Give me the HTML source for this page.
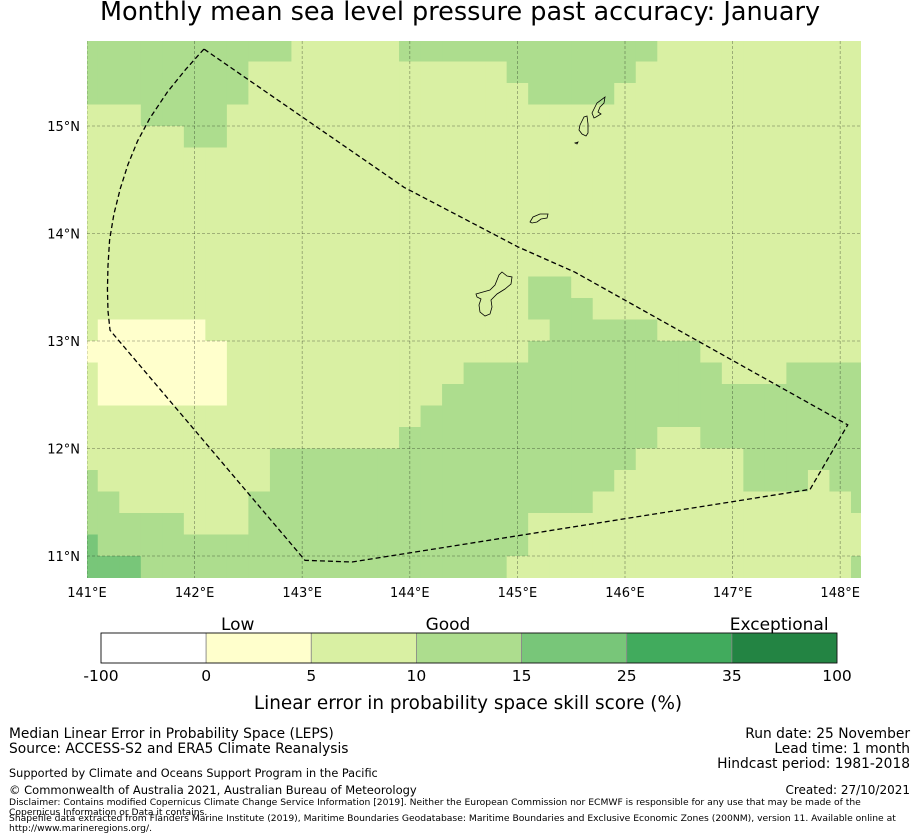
<!DOCTYPE html>
<html><head><meta charset="utf-8"><style>
html,body{margin:0;padding:0;background:#fff;}
body{width:919px;height:839px;overflow:hidden;font-family:"DejaVu Sans","Liberation Sans",sans-serif;}
svg{display:block;}
</style></head><body>
<svg id="chart" width="919" height="839" viewBox="0 0 919 839" xmlns="http://www.w3.org/2000/svg" font-family="DejaVu Sans, Liberation Sans, sans-serif">
<text x="460" y="20" text-anchor="middle" font-size="25.5" fill="#000">Monthly mean sea level pressure past accuracy: January</text>
<defs><clipPath id="mapclip"><rect x="87" y="41" width="774" height="537"/></clipPath></defs>
<g id="map" clip-path="url(#mapclip)">
<g id="cells"></g>
<g id="grid"></g>
<g id="islands" fill="none" stroke="#000" stroke-width="0.8">
<path d="M476,294 L483,292 L490,290 L495,285 L499,275 L502,272 L507,276 L512,277 L511,284 L505,289 L497,294 L491,300 L492,307 L490,314 L485,316 L480,312 L479,305 L481,299 L477,297 Z"/>
<path d="M530,222 L533,217 L540,214 L548,214 L547,218 L541,219 L537,222 L532,223 Z"/>
<path d="M580,125 L584,117 L587,116 L588,124 L588,133 L586,136 L582,134 L579,130 Z"/>
<path d="M592,113 L597,103 L605,97 L604,103 L600,107 L598,112 L601,114 L596,117 L594,118 Z"/>
<path d="M575,143 L578,142 L577,144 Z"/>
</g>
<polyline id="eez" fill="none" stroke="#000" stroke-width="1.3" stroke-dasharray="5,3"/>
</g>
<g id="ticks" font-size="13" fill="#000"></g>
<g id="cbar"></g>
<text x="468" y="709" text-anchor="middle" font-size="18.4">Linear error in probability space skill score (%)</text>
<g font-size="13.8" fill="#000">
<text x="9" y="738">Median Linear Error in Probability Space (LEPS)</text>
<text x="9" y="753">Source: ACCESS-S2 and ERA5 Climate Reanalysis</text>
<text x="9" y="777" font-size="11.3">Supported by Climate and Oceans Support Program in the Pacific</text>
<text x="9" y="794" font-size="11.5">© Commonwealth of Australia 2021, Australian Bureau of Meteorology</text>
<text x="910" y="738" text-anchor="end">Run date: 25 November</text>
<text x="910" y="753" text-anchor="end">Lead time: 1 month</text>
<text x="910" y="768" text-anchor="end">Hindcast period: 1981-2018</text>
<text x="910" y="794" text-anchor="end" font-size="12">Created: 27/10/2021</text>
<g font-size="9.2">
<text x="9" y="805">Disclaimer: Contains modified Copernicus Climate Change Service Information [2019]. Neither the European Commission nor ECMWF is responsible for any use that may be made of the</text>
<text x="9" y="815">Copernicus Information or Data it contains.</text>
<text x="9" y="821">Shapefile data extracted from Flanders Marine Institute (2019), Maritime Boundaries Geodatabase: Maritime Boundaries and Exclusive Economic Zones (200NM), version 11. Available online at</text>
<text x="9" y="831">http://www.marineregions.org/.</text>
</g>
</g>
</svg>
<script>
const NS='http://www.w3.org/2000/svg';
// grid rows (top lat 15.8 downward, 0.2deg), columns from lon 140.9 (0.2deg); codes = category index
const gridRows=[
"3333333333222223333333333332222222222",
"3333333322222222222233333322222222222",
"3333333322222222222223333222222222222",
"2223333222222222222222222222222222222",
"2222233222222222222222222222222222222",
"2222222222222222222222222222222222222",
"2222222222222222222222222222222222222",
"2222222222222222222222222222222222222",
"2222222222222222222222222222222222222",
"2222222222222222222222222222222222222",
"2222222222222222222222222222222222222",
"2222222222222222222223322222222222222",
"2222222222222222222223332222222222222",
"2111112222222222222222333332222222222",
"1111111222222222222223333333322222222",
"2111111222222222223333333333332223333",
"2111111222222222233333333333333333333",
"2222222222222222333333333333333333333",
"2222222222222223333333333332233333333",
"2222222223333333333333333322222333333",
"3222222223333333333333333222222333233",
"3322222233333333333333332222222222223",
"3333322233333333333332222222222222222",
"4333333333333333333332222222222222222",
"4443333333333333333322222222222222223"];
const gridLon0=140.9, gridLat0=15.8, gridStep=0.2;
const catColors=["#ffffff","#ffffcc","#d9f0a3","#addd8e","#78c679","#41ab5d","#238443"];
const lonTicks=[141,142,143,144,145,146,147,148];
const latTicks=[11,12,13,14,15];
const eezLon=[142.087,141.92,141.75,141.585,141.47,141.38,141.31,141.25,141.21,141.195,141.19,141.195,141.214,143.026,143.463,147.72,148.07,145.535,145.006,143.946,142.087];
const eezLat=[15.716,15.53,15.32,15.074,14.86,14.64,14.42,14.18,13.94,13.70,13.48,13.28,13.10,10.96,10.944,11.62,12.22,13.64,13.875,14.43,15.716];
const cbarLabels=["-100","0","5","10","15","25","35","100"];
const cbarTitles=["Low","Good","Exceptional"];
const cbarTitlePos=[1.3,3.3,6.45];

const X=lon=>87+(lon-141)*107.6;
const Y=lat=>126+(15-lat)*107.5;

const cells=document.getElementById('cells');
gridRows.forEach((row,j)=>{
  for(let i=0;i<row.length;i++){
    const r=document.createElementNS(NS,'rect');
    const x0=X(gridLon0+gridStep*i), x1=X(gridLon0+gridStep*(i+1));
    const y0=Y(gridLat0-gridStep*j), y1=Y(gridLat0-gridStep*(j+1));
    r.setAttribute('x',x0);r.setAttribute('y',y0);
    r.setAttribute('width',x1-x0+0.5);r.setAttribute('height',y1-y0+0.5);
    r.setAttribute('fill',catColors[+row[i]]);
    
    
    cells.appendChild(r);
  }
});
const grid=document.getElementById('grid'), ticks=document.getElementById('ticks');
lonTicks.forEach(v=>{
  const l=document.createElementNS(NS,'line');
  l.setAttribute('x1',X(v));l.setAttribute('x2',X(v));l.setAttribute('y1',41);l.setAttribute('y2',578);
  l.setAttribute('stroke','#000');l.setAttribute('stroke-opacity','0.35');l.setAttribute('stroke-width','0.8');l.setAttribute('stroke-dasharray','3,2');
  
  
  grid.appendChild(l);
  const t=document.createElementNS(NS,'text');
  t.setAttribute('x',X(v));t.setAttribute('y',597);t.setAttribute('text-anchor','middle');
  t.textContent=v+'°E';
  
  
  ticks.appendChild(t);
});
latTicks.forEach(v=>{
  const l=document.createElementNS(NS,'line');
  l.setAttribute('y1',Y(v));l.setAttribute('y2',Y(v));l.setAttribute('x1',87);l.setAttribute('x2',861);
  l.setAttribute('stroke','#000');l.setAttribute('stroke-opacity','0.35');l.setAttribute('stroke-width','0.8');l.setAttribute('stroke-dasharray','3,2');
  
  
  grid.appendChild(l);
  const t=document.createElementNS(NS,'text');
  t.setAttribute('x',80);t.setAttribute('y',Y(v)+5);t.setAttribute('text-anchor','end');
  t.textContent=v+'°N';
  
  
  ticks.appendChild(t);
});
document.getElementById('eez').setAttribute('points',eezLon.map((v,k)=>X(v)+','+Y(eezLat[k])).join(' '));

const cb=document.getElementById('cbar');
const cbX0=101,cbX1=837,cbY=633,cbH=30,n=catColors.length,seg=(cbX1-cbX0)/n;
catColors.forEach((c,k)=>{
  const r=document.createElementNS(NS,'rect');
  r.setAttribute('x',cbX0+seg*k);r.setAttribute('y',cbY);r.setAttribute('width',seg);r.setAttribute('height',cbH);
  r.setAttribute('fill',c);r.setAttribute('stroke','#888');r.setAttribute('stroke-width','0.8');
  
  
  cb.appendChild(r);
});
const fr=document.createElementNS(NS,'rect');
fr.setAttribute('x',cbX0);fr.setAttribute('y',cbY);fr.setAttribute('width',cbX1-cbX0);fr.setAttribute('height',cbH);
fr.setAttribute('fill','none');fr.setAttribute('stroke','#000');fr.setAttribute('stroke-width','0.8');


cb.appendChild(fr);
cbarLabels.forEach((s,k)=>{
  const t=document.createElementNS(NS,'text');
  t.setAttribute('x',cbX0+seg*k);t.setAttribute('y',681);t.setAttribute('text-anchor','middle');t.setAttribute('font-size','15.5');
  t.textContent=s;
  
  
  cb.appendChild(t);
});
cbarTitles.forEach((s,k)=>{
  const t=document.createElementNS(NS,'text');
  t.setAttribute('x',cbX0+seg*cbarTitlePos[k]);t.setAttribute('y',630);t.setAttribute('text-anchor','middle');t.setAttribute('font-size','17');
  t.textContent=s;
  
  
  cb.appendChild(t);
});
</script>
</body></html>
